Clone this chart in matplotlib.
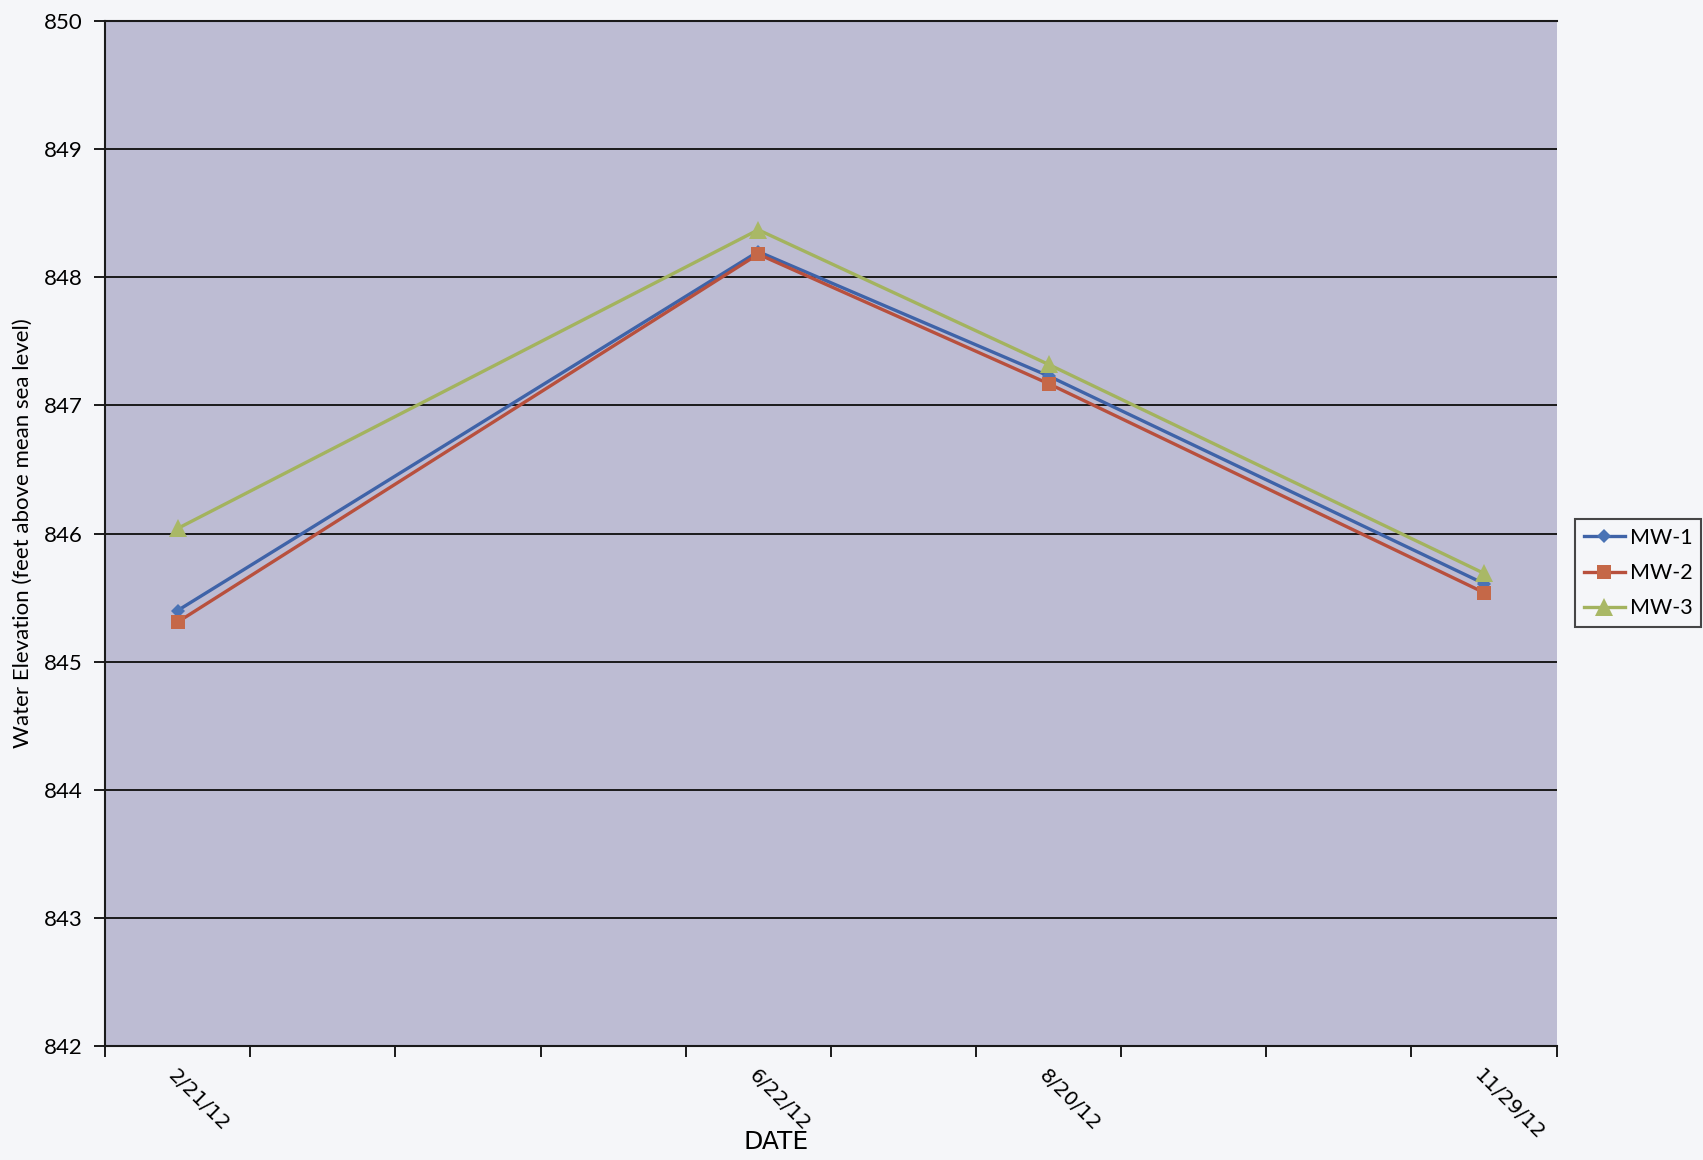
import matplotlib
matplotlib.use("Agg")
import matplotlib.pyplot as plt
from matplotlib.ticker import FixedLocator, NullFormatter

# ---- data ----
dates = ["2/21/12", "6/22/12", "8/20/12", "11/29/12"]
date_slots = [0, 4, 6, 9]          # category slots on the 10-slot Excel axis
n_slots = 10
mw1 = [845.40, 848.20, 847.23, 845.61]
mw2 = [845.31, 848.18, 847.17, 845.54]
mw3 = [846.04, 848.37, 847.32, 845.69]
series_names = ["MW-1", "MW-2", "MW-3"]
yticks = [842, 843, 844, 845, 846, 847, 848, 849, 850]

fig = plt.figure(figsize=(17.03, 11.60), dpi=100)
fig.patch.set_facecolor("#f5f6f9")
ax = fig.add_axes([0.0617, 0.098, 0.8523, 0.884])
ax.set_facecolor("#bdbcd3")

styles = [
    dict(color="#3f63a8", marker="D", markersize=7, markerfacecolor="#4a73b5"),
    dict(color="#b8503d", marker="s", markersize=10, markerfacecolor="#c56848"),
    dict(color="#a3b35e", marker="^", markersize=13, markerfacecolor="#a9b866"),
]
for vals, name, st in zip([mw1, mw2, mw3], series_names, styles):
    ax.plot(date_slots, vals, label=name, linewidth=2.4,
            markeredgewidth=0, zorder=3, **st)

ax.set_ylim(842, 850)
ax.set_xlim(-0.5, n_slots - 0.5)
ax.set_yticks(yticks)
ax.yaxis.grid(True, color="#1a1a1a", linewidth=1.4)
ax.set_axisbelow(True)
for lab in ax.get_yticklabels():
    lab.set_fontsize(16)
    lab.set_family("Lato")

# x: major ticks at category boundaries, labels at the dates
ax.xaxis.set_major_locator(FixedLocator([i - 0.5 for i in range(n_slots + 1)]))
ax.xaxis.set_major_formatter(NullFormatter())
ax.xaxis.set_minor_locator(FixedLocator(date_slots))
ax.set_xticklabels(dates, minor=True, rotation=-45, ha="left",
                   rotation_mode="anchor", fontsize=14.5, family="DejaVu Sans")
ax.tick_params(axis="x", which="minor", length=0, pad=14)
ax.tick_params(axis="x", which="major", length=8, width=1.4, color="#1a1a1a")
ax.tick_params(axis="y", length=8, width=1.4, color="#1a1a1a", pad=8)

for s in ["left", "bottom", "top"]:
    ax.spines[s].set_color("#1a1a1a")
    ax.spines[s].set_linewidth(1.5)
ax.spines["right"].set_visible(False)

ax.set_xlabel("DATE", fontsize=18, family="DejaVu Sans", labelpad=2)
ax.xaxis.set_label_coords(0.462, -0.082)
ax.set_ylabel("Water Elevation (feet above mean sea level)", fontsize=16,
              family="Lato")
ax.yaxis.set_label_coords(-0.05, 0.5)

leg = fig.legend(loc="center right", bbox_to_anchor=(0.999, 0.506),
                 frameon=True, fancybox=False, fontsize=15.5,
                 handlelength=1.9, borderpad=0.4, labelspacing=0.7,
                 handletextpad=0.25, borderaxespad=0)
leg.get_frame().set_edgecolor("#1a1a1a")
leg.get_frame().set_linewidth(1.5)
leg.get_frame().set_facecolor("#f5f6f9")
for t in leg.get_texts():
    t.set_family("Lato")

fig.savefig("out.png", dpi=100, facecolor=fig.get_facecolor())
